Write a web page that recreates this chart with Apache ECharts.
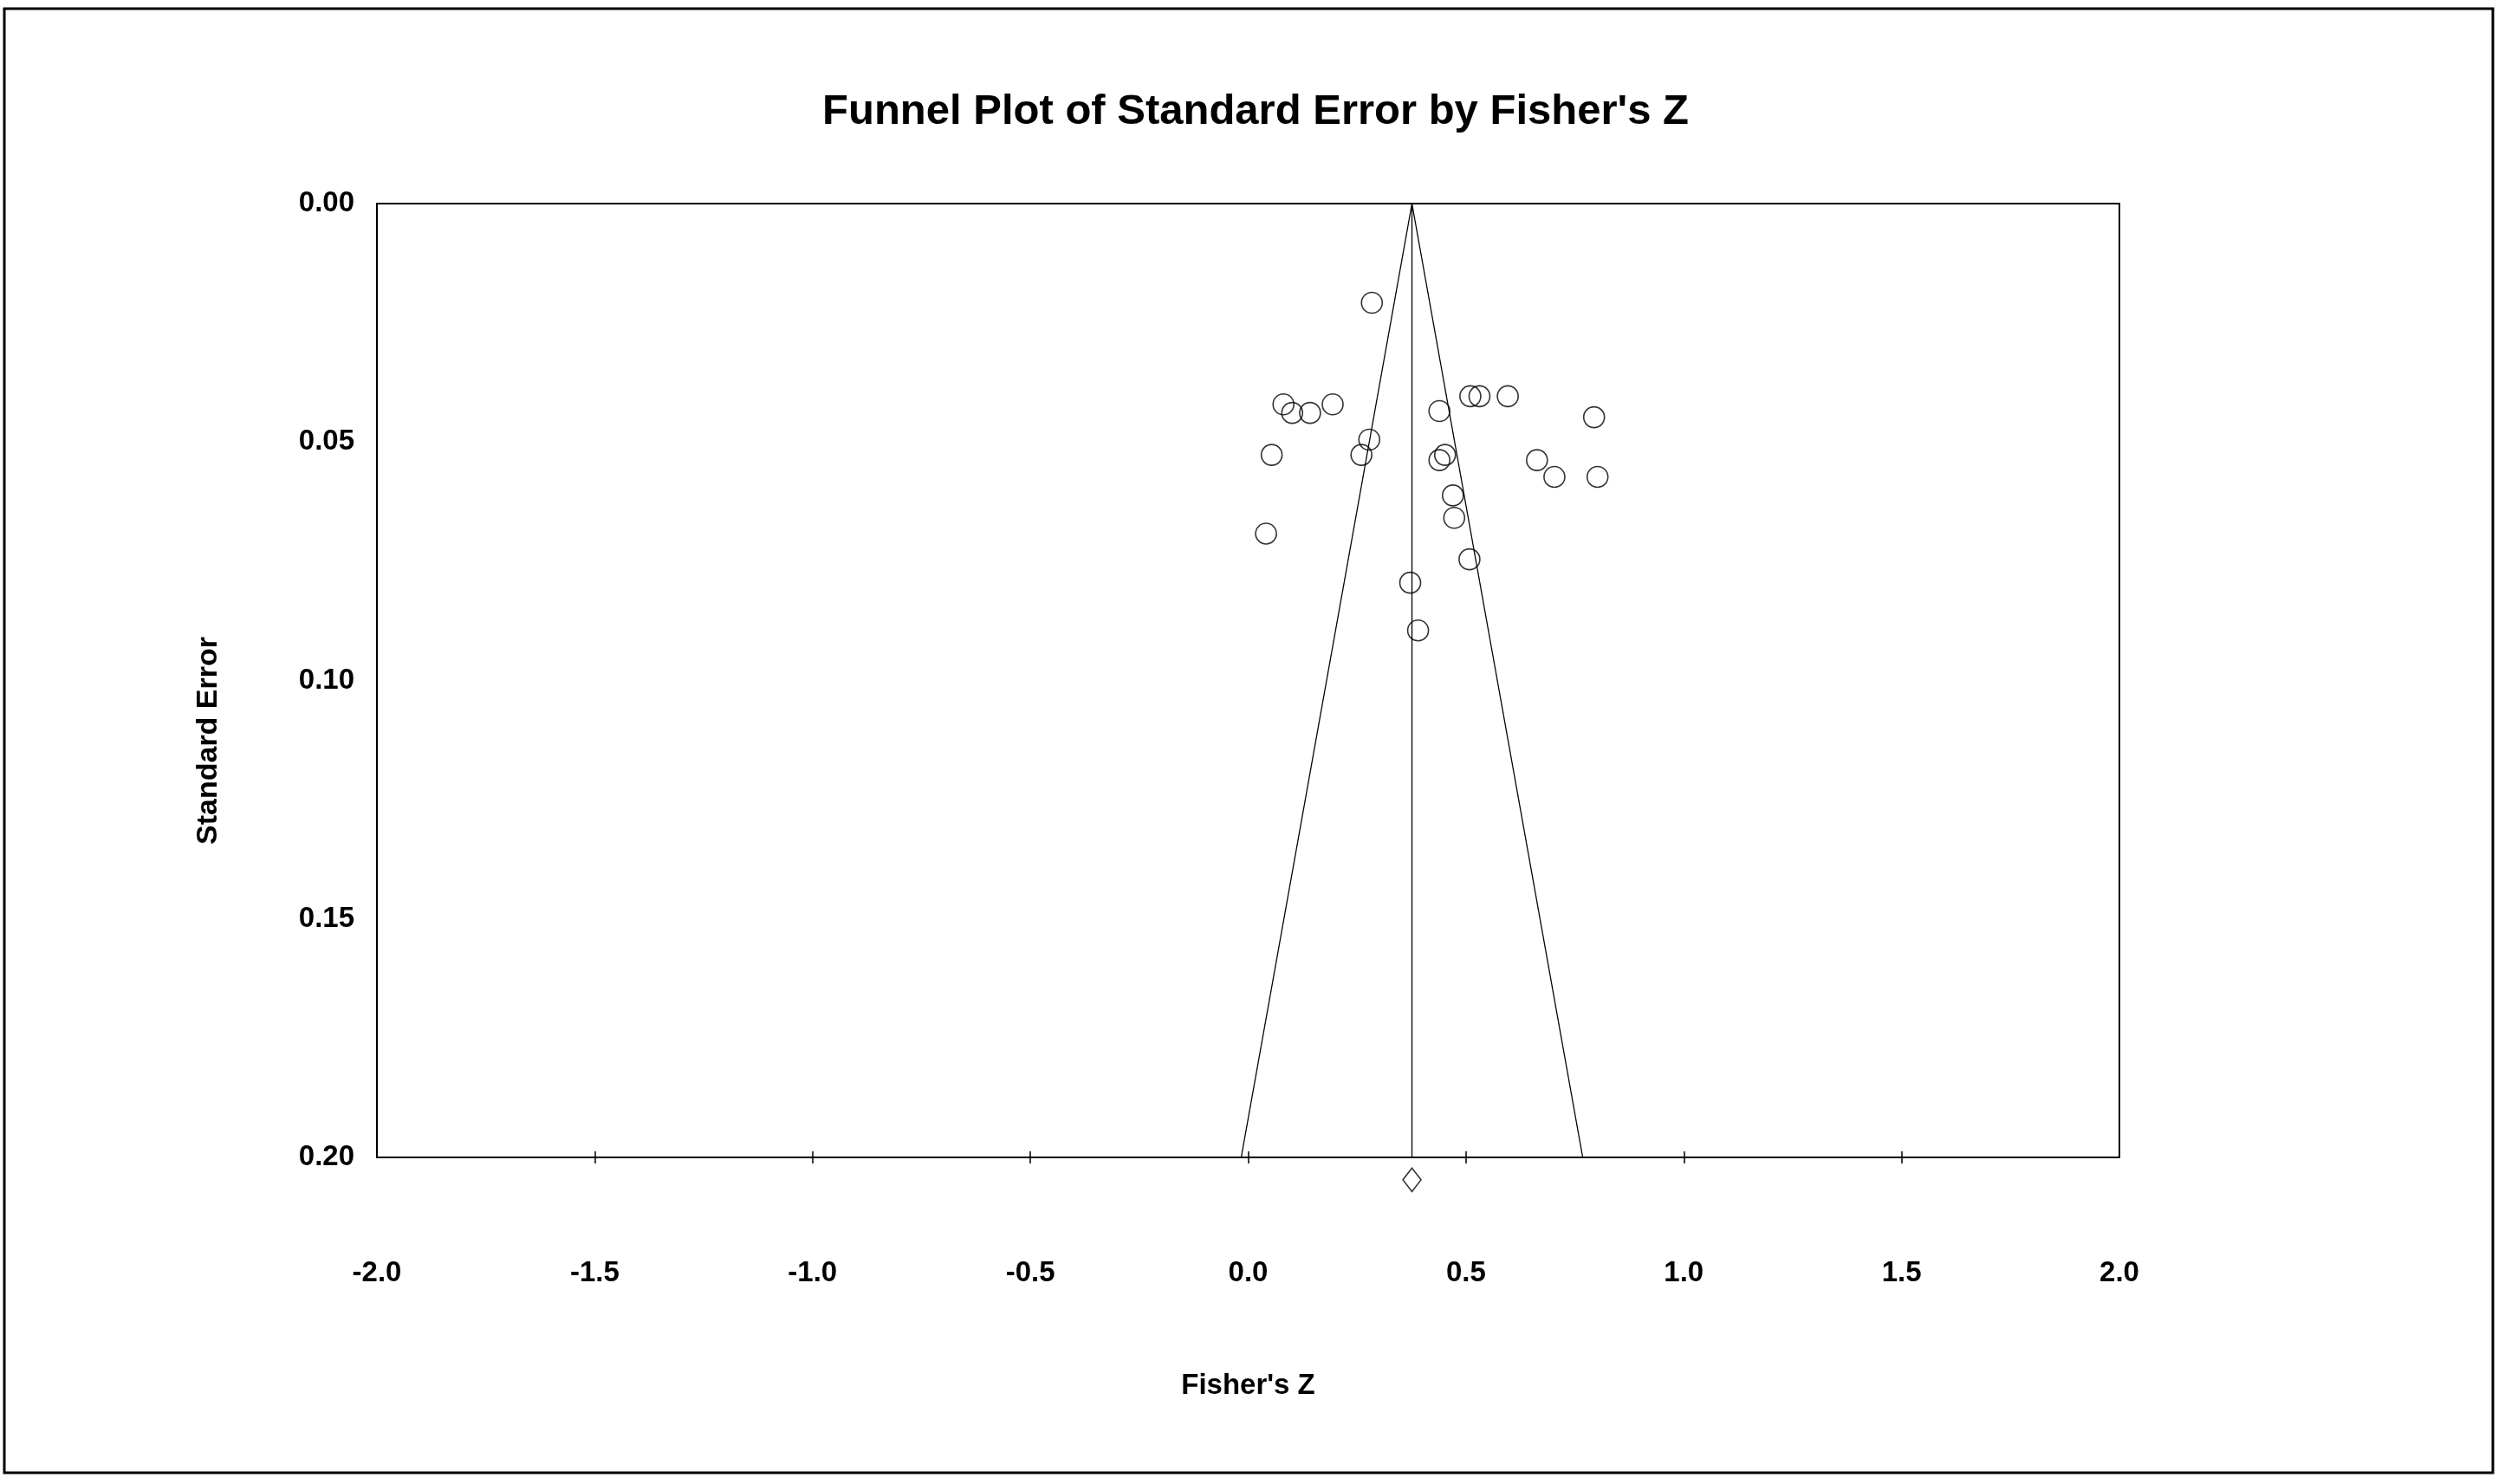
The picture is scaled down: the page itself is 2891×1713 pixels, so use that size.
<!DOCTYPE html>
<html>
<head>
<meta charset="utf-8">
<title>Funnel Plot of Standard Error by Fisher's Z</title>
<script src="https://cdn.jsdelivr.net/npm/echarts@6/dist/echarts.min.js"></script>
<style>
  html, body { margin: 0; padding: 0; background: #fff; }
  #chart { width: 2891px; height: 1713px; }
</style>
</head>
<body>
<div id="chart"></div>
<script>
// study effects (Fisher's Z) and their standard errors
var studyZ = [0.284, 0.081, 0.101, 0.142, 0.194, 0.054, 0.278, 0.260, 0.041, 0.439, 0.510, 0.531,
  0.596, 0.794, 0.452, 0.439, 0.663, 0.703, 0.802, 0.470, 0.473, 0.508, 0.372, 0.390];
var studySE = [0.0208, 0.0421, 0.0439, 0.0439, 0.0421, 0.0527, 0.0495, 0.0527, 0.0692, 0.0435, 0.0404, 0.0404,
  0.0404, 0.0448, 0.0527, 0.0538, 0.0538, 0.0573, 0.0573, 0.0612, 0.0659, 0.0746, 0.0795, 0.0895];

// pooled estimate and funnel limits
var pooledZ = 0.376;
var pooledMarkSE = 0.2047;
var funnelSE = [0, 0.2];
var funnelLeftZ = [0.376, -0.016];
var funnelRightZ = [0.376, 0.768];

var xTicks = [-1.5, -1.0, -0.5, 0.0, 0.5, 1.0, 1.5];

var font = "'Liberation Sans', Arial, sans-serif";

function pairs(xs, ys) {
  var out = [];
  for (var i = 0; i < xs.length; i++) out.push([xs[i], ys[i]]);
  return out;
}

var chart = echarts.init(document.getElementById("chart"));

var option = {
  animation: false,
  backgroundColor: "#fff",
  title: {
    text: "Funnel Plot of Standard Error by Fisher's Z",
    left: 1444,
    top: 100,
    textAlign: "center",
    textStyle: { fontFamily: font, fontWeight: "bold", fontSize: 49, color: "#000" }
  },
  graphic: [
    {
      type: "rect",
      shape: { x: 5, y: 10, width: 2872, height: 1690 },
      style: { fill: "none", stroke: "#000", lineWidth: 3 },
      silent: true
    },
    {
      type: "text",
      x: 241,
      y: 855,
      rotation: Math.PI / 2,
      style: {
        text: "Standard Error",
        font: "bold 34px " + font,
        fill: "#000",
        align: "center",
        verticalAlign: "middle"
      }
    }
  ],
  grid: {
    left: 435,
    top: 235,
    right: 445,
    bottom: 377,
    show: true,
    borderColor: "#000",
    borderWidth: 2,
    backgroundColor: "transparent"
  },
  xAxis: [
    {
      type: "value",
      min: -2,
      max: 2,
      interval: 0.5,
      position: "bottom",
      name: "Fisher's Z",
      nameLocation: "middle",
      nameGap: 247,
      nameTextStyle: { fontFamily: font, fontWeight: "bold", fontSize: 33, color: "#000" },
      axisLine: { show: true, onZero: false, lineStyle: { color: "#000", width: 2 } },
      axisTick: { show: true, inside: false, length: 7, customValues: xTicks, lineStyle: { color: "#000", width: 1.5 } },
      axisLabel: {
        margin: 117,
        fontFamily: font,
        fontWeight: "bold",
        fontSize: 33,
        color: "#000",
        formatter: function (v) { return v.toFixed(1); }
      },
      splitLine: { show: false }
    },
    {
      type: "value",
      min: -2,
      max: 2,
      interval: 0.5,
      position: "bottom",
      offset: 0,
      axisLine: { show: false, onZero: false },
      axisTick: { show: true, inside: true, length: 7, customValues: xTicks, lineStyle: { color: "#000", width: 1.5 } },
      axisLabel: { show: false },
      splitLine: { show: false }
    }
  ],
  yAxis: {
    type: "value",
    min: 0,
    max: 0.2,
    interval: 0.05,
    inverse: true,
    axisLine: { show: true, onZero: false, lineStyle: { color: "#000", width: 2 } },
    axisTick: { show: false },
    axisLabel: {
      margin: 26,
      fontFamily: font,
      fontWeight: "bold",
      fontSize: 33,
      color: "#000",
      formatter: function (v) { return v.toFixed(2); }
    },
    splitLine: { show: false }
  },
  series: [
    {
      name: "funnel left",
      type: "line",
      data: pairs(funnelLeftZ, funnelSE),
      symbol: "none",
      lineStyle: { color: "#000", width: 1.3 },
      silent: true
    },
    {
      name: "funnel right",
      type: "line",
      data: pairs(funnelRightZ, funnelSE),
      symbol: "none",
      lineStyle: { color: "#000", width: 1.3 },
      silent: true
    },
    {
      name: "pooled",
      type: "line",
      data: pairs([pooledZ, pooledZ], funnelSE),
      symbol: "none",
      lineStyle: { color: "#000", width: 1.3 },
      silent: true
    },
    {
      name: "studies",
      type: "scatter",
      data: pairs(studyZ, studySE),
      symbol: "circle",
      symbolSize: 24,
      itemStyle: { color: "rgba(0,0,0,0)", borderColor: "#000", borderWidth: 1.6 }
    },
    {
      name: "pooled estimate",
      type: "scatter",
      clip: false,
      data: [[pooledZ, pooledMarkSE]],
      symbol: "diamond",
      symbolSize: [21, 27],
      itemStyle: { color: "rgba(0,0,0,0)", borderColor: "#000", borderWidth: 1.6 }
    }
  ]
};

chart.setOption(option);
window.addEventListener("resize", function () {
  chart.resize();
});
</script>
</body>
</html>
